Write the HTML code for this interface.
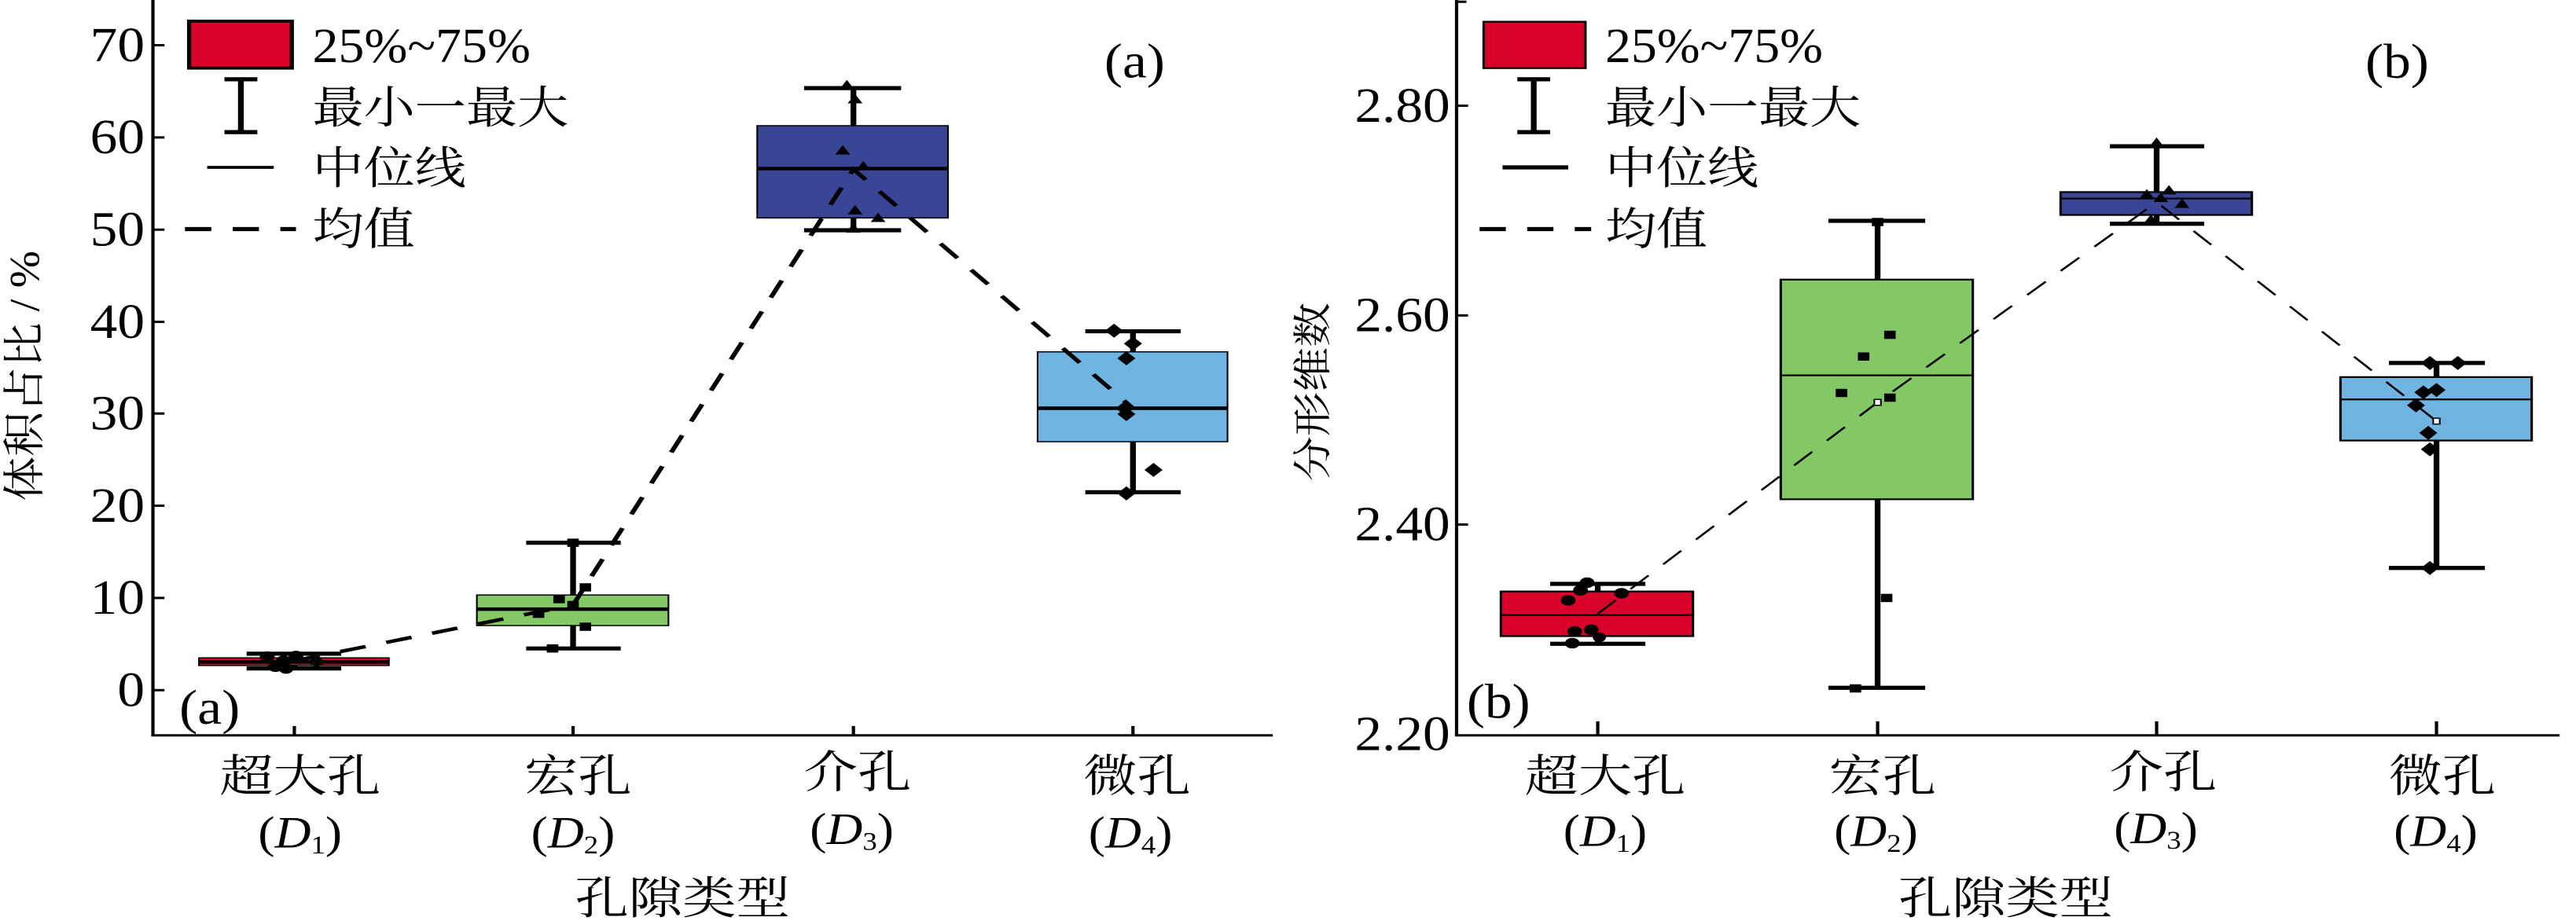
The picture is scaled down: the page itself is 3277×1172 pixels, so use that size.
<!DOCTYPE html>
<html><head><meta charset="utf-8"><style>
html,body{margin:0;padding:0;background:#fff;}
svg{position:absolute;top:0;}
text{font-family:"Liberation Serif","Noto Serif CJK SC","Noto Sans CJK SC",serif;fill:#000;}
.n{font-size:83px;text-anchor:end;dominant-baseline:central;}
.c{font-size:76px;text-anchor:middle;dominant-baseline:central;}
.l{font-size:76px;dominant-baseline:central;}
.ln{font-size:83px;dominant-baseline:central;}
</style></head><body>
<svg style="left:0" width="1640" height="1172" viewBox="0 0 1568 1568" preserveAspectRatio="none">
<g stroke="#000" stroke-width="4" fill="none">
<line x1="186" y1="0" x2="186" y2="1252"/><line x1="184" y1="1252" x2="1548" y2="1252"/>
<line x1="186" y1="77" x2="200" y2="77"/><line x1="186" y1="234" x2="200" y2="234"/><line x1="186" y1="391" x2="200" y2="391"/><line x1="186" y1="548" x2="200" y2="548"/><line x1="186" y1="704" x2="200" y2="704"/><line x1="186" y1="861" x2="200" y2="861"/><line x1="186" y1="1018" x2="200" y2="1018"/><line x1="186" y1="1175" x2="200" y2="1175"/>
<line x1="358" y1="1236" x2="358" y2="1252"/><line x1="697" y1="1236" x2="697" y2="1252"/><line x1="1038" y1="1236" x2="1038" y2="1252"/><line x1="1378" y1="1236" x2="1378" y2="1252"/>
</g>
<g class="n">
<text transform="translate(176,77) scale(0.8,1)">70</text><text transform="translate(176,234) scale(0.8,1)">60</text><text transform="translate(176,391) scale(0.8,1)">50</text><text transform="translate(176,548) scale(0.8,1)">40</text><text transform="translate(176,704) scale(0.8,1)">30</text><text transform="translate(176,861) scale(0.8,1)">20</text><text transform="translate(176,1018) scale(0.8,1)">10</text><text transform="translate(176,1175) scale(0.8,1)">0</text>
</g>
<g stroke="#000" stroke-width="7">
<line x1="358" y1="1113" x2="358" y2="1138"/><line x1="300" y1="1113" x2="415" y2="1113"/><line x1="300" y1="1138" x2="415" y2="1138"/>
<line x1="697" y1="924" x2="697" y2="1104"/><line x1="640" y1="924" x2="755" y2="924"/><line x1="640" y1="1104" x2="755" y2="1104"/>
<line x1="1038" y1="150" x2="1038" y2="392"/><line x1="978" y1="150" x2="1096" y2="150"/><line x1="978" y1="392" x2="1096" y2="392"/>
<line x1="1378" y1="564" x2="1378" y2="838"/><line x1="1320" y1="564" x2="1436" y2="564"/><line x1="1320" y1="838" x2="1436" y2="838"/>
</g>
<g stroke="#000" stroke-width="2">
<rect x="242" y="1120" width="231" height="13" fill="#d9002a"/>
<rect x="580" y="1013" width="233" height="52" fill="#84c765"/>
<rect x="921" y="214" width="232" height="157" fill="#3a4596"/>
<rect x="1262" y="599" width="231" height="153" fill="#70b5e2"/>
</g>
<g stroke="#000" stroke-width="6">
<line x1="242" y1="1127" x2="473" y2="1127"/><line x1="580" y1="1037" x2="813" y2="1037"/><line x1="921" y1="287" x2="1153" y2="287"/><line x1="1262" y1="695" x2="1493" y2="695"/>
</g>
<polyline points="358,1125 697,1030 1038,288 1378,695" fill="none" stroke="#000" stroke-width="6" stroke-dasharray="32,26"/>
<g fill="#000">
<circle cx="325" cy="1118" r="9"/><circle cx="345" cy="1125" r="9"/><circle cx="360" cy="1117" r="9"/><circle cx="335" cy="1135" r="9"/><circle cx="348" cy="1138" r="9"/><circle cx="385" cy="1127" r="8"/>
<rect x="690" y="917" width="14" height="14"/><rect x="665" y="1097" width="14" height="14"/><rect x="648" y="1038" width="14" height="14"/><rect x="673" y="1013" width="14" height="14"/><rect x="690" y="1023" width="14" height="14"/><rect x="705" y="993" width="14" height="14"/><rect x="705" y="1060" width="14" height="14"/>
<path d="M1030,136 l9,16 h-18z"/><path d="M1040,160 l9,16 h-18z"/><path d="M1025,247 l9,16 h-18z"/><path d="M1050,274 l9,16 h-18z"/><path d="M1040,349 l9,16 h-18z"/><path d="M1068,362 l9,16 h-18z"/><path d="M1038,380 l9,16 h-18z"/>
<path d="M1355,551 l11,12 l-11,12 l-11,-12z"/><path d="M1378,573 l11,12 l-11,12 l-11,-12z"/><path d="M1370,598 l11,12 l-11,12 l-11,-12z"/><path d="M1368,683 l11,12 l-11,12 l-11,-12z"/><path d="M1370,693 l11,12 l-11,12 l-11,-12z"/><path d="M1403,788 l11,12 l-11,12 l-11,-12z"/><path d="M1370,828 l11,12 l-11,12 l-11,-12z"/>
</g>
<rect x="230" y="36" width="125" height="80" fill="#d9002a" stroke="#000" stroke-width="5"/>
<g stroke="#000" stroke-width="7"><line x1="293" y1="135" x2="293" y2="225"/><line x1="273" y1="135" x2="313" y2="135"/><line x1="273" y1="225" x2="313" y2="225"/></g>
<line x1="252" y1="285" x2="333" y2="285" stroke="#000" stroke-width="5"/>
<line x1="225" y1="390" x2="360" y2="390" stroke="#000" stroke-width="7" stroke-dasharray="32,26"/>
<text class="ln" transform="translate(380,78) scale(0.76,1)">25%~75%</text>
<text class="l" transform="translate(380,185) scale(0.82,1)">最小一最大</text>
<text class="l" transform="translate(380,288) scale(0.82,1)">中位线</text>
<text class="l" transform="translate(380,392) scale(0.82,1)">均值</text>
<text class="ln" text-anchor="middle" transform="translate(1380,105) scale(0.8,1)">(a)</text>
<text class="ln" text-anchor="middle" transform="translate(255,1205) scale(0.8,1)">(a)</text>
<g>
<text class="c" transform="translate(365,1322) scale(0.86,1)">超大孔</text><text class="c" transform="translate(703,1322) scale(0.86,1)">宏孔</text><text class="c" transform="translate(1043,1315) scale(0.86,1)">介孔</text><text class="c" transform="translate(1383,1322) scale(0.86,1)">微孔</text>
<text class="c" font-size="83" transform="translate(365,1418) scale(0.8,1)">(<tspan font-style="italic">D</tspan><tspan font-size="44" dy="20">1</tspan><tspan dy="-20">)</tspan></text>
<text class="c" font-size="83" transform="translate(697,1418) scale(0.8,1)">(<tspan font-style="italic">D</tspan><tspan font-size="44" dy="20">2</tspan><tspan dy="-20">)</tspan></text>
<text class="c" font-size="83" transform="translate(1036,1412) scale(0.8,1)">(<tspan font-style="italic">D</tspan><tspan font-size="44" dy="20">3</tspan><tspan dy="-20">)</tspan></text>
<text class="c" font-size="83" transform="translate(1375,1418) scale(0.8,1)">(<tspan font-style="italic">D</tspan><tspan font-size="44" dy="20">4</tspan><tspan dy="-20">)</tspan></text>
<text class="c" transform="translate(830,1530) scale(0.86,1)">孔隙类型</text>
<text class="c" font-size="90" transform="translate(30,640) rotate(-90) scale(1,0.68)">体积占比 / %</text>
</g>
</svg>

<svg style="left:1640px" width="1637" height="1172" viewBox="0 0 1568 1568" preserveAspectRatio="none">
<g stroke="#000" stroke-width="4" fill="none">
<line x1="204" y1="0" x2="204" y2="1252"/><line x1="202" y1="1252" x2="1548" y2="1252"/><line x1="204" y1="3" x2="216" y2="3"/>
<line x1="204" y1="180" x2="218" y2="180"/><line x1="204" y1="537" x2="218" y2="537"/><line x1="204" y1="893" x2="218" y2="893"/>
<line x1="376" y1="1228" x2="376" y2="1252"/><line x1="717" y1="1228" x2="717" y2="1252"/><line x1="1057" y1="1228" x2="1057" y2="1252"/><line x1="1398" y1="1228" x2="1398" y2="1252"/>
</g>
<g class="n">
<text transform="translate(196,180) scale(0.8,1)">2.80</text><text transform="translate(196,537) scale(0.8,1)">2.60</text><text transform="translate(196,893) scale(0.8,1)">2.40</text><text transform="translate(196,1250) scale(0.8,1)">2.20</text>
</g>
<g stroke="#000" stroke-width="7">
<line x1="376" y1="994" x2="376" y2="1096"/><line x1="318" y1="994" x2="434" y2="994"/><line x1="318" y1="1096" x2="434" y2="1096"/>
<line x1="717" y1="376" x2="717" y2="1171"/><line x1="657" y1="376" x2="775" y2="376"/><line x1="657" y1="1171" x2="775" y2="1171"/>
<line x1="1057" y1="249" x2="1057" y2="381"/><line x1="1000" y1="249" x2="1115" y2="249"/><line x1="1000" y1="381" x2="1115" y2="381"/>
<line x1="1398" y1="618" x2="1398" y2="967"/><line x1="1340" y1="618" x2="1457" y2="618"/><line x1="1340" y1="967" x2="1457" y2="967"/>
</g>
<g stroke="#000" stroke-width="3">
<rect x="258" y="1007" width="234" height="76" fill="#d9002a"/>
<rect x="599" y="476" width="234" height="374" fill="#84c765"/>
<rect x="940" y="327" width="233" height="39" fill="#3a4596"/>
<rect x="1281" y="642" width="233" height="108" fill="#70b5e2"/>
</g>
<g stroke="#000" stroke-width="3">
<line x1="258" y1="1047" x2="492" y2="1047"/><line x1="599" y1="639" x2="833" y2="639"/><line x1="940" y1="338" x2="1173" y2="338"/><line x1="1281" y1="680" x2="1514" y2="680"/>
</g>
<polyline points="376,1045 717,685 1057,344 1398,717" fill="none" stroke="#000" stroke-width="3" stroke-dasharray="32,26"/>
<g fill="#000">
<circle cx="363" cy="992" r="9"/><circle cx="355" cy="1005" r="9"/><circle cx="340" cy="1022" r="9"/><circle cx="405" cy="1010" r="9"/><circle cx="348" cy="1075" r="9"/><circle cx="368" cy="1072" r="9"/><circle cx="378" cy="1085" r="8"/><circle cx="345" cy="1095" r="9"/>
<rect x="710" y="371" width="14" height="14"/><rect x="725" y="563" width="14" height="14"/><rect x="693" y="600" width="14" height="14"/><rect x="666" y="662" width="14" height="14"/><rect x="725" y="670" width="14" height="14"/><rect x="721" y="1011" width="14" height="14"/><rect x="683" y="1165" width="14" height="14"/>
<path d="M1057,234 l9,16 h-18z"/><path d="M1045,322 l9,16 h-18z"/><path d="M1072,315 l9,16 h-18z"/><path d="M1088,338 l9,16 h-18z"/><path d="M1050,365 l9,16 h-18z"/><path d="M1062,328 l9,16 h-18z"/>
<path d="M1390,606 l11,12 l-11,12 l-11,-12z"/><path d="M1424,606 l11,12 l-11,12 l-11,-12z"/><path d="M1398,652 l11,12 l-11,12 l-11,-12z"/><path d="M1382,656 l11,12 l-11,12 l-11,-12z"/><path d="M1373,678 l11,12 l-11,12 l-11,-12z"/><path d="M1388,725 l11,12 l-11,12 l-11,-12z"/><path d="M1390,753 l11,12 l-11,12 l-11,-12z"/><path d="M1390,955 l11,12 l-11,12 l-11,-12z"/>
</g>
<rect x="713" y="680" width="8" height="10" fill="#fff" stroke="#000" stroke-width="2"/>
<rect x="1394" y="712" width="8" height="10" fill="#fff" stroke="#000" stroke-width="2"/>
<rect x="237" y="37" width="124" height="79" fill="#d9002a" stroke="#000" stroke-width="3"/>
<g stroke="#000" stroke-width="7"><line x1="298" y1="135" x2="298" y2="225"/><line x1="278" y1="135" x2="318" y2="135"/><line x1="278" y1="225" x2="318" y2="225"/></g>
<line x1="260" y1="285" x2="340" y2="285" stroke="#000" stroke-width="7"/>
<line x1="232" y1="390" x2="368" y2="390" stroke="#000" stroke-width="7" stroke-dasharray="32,26"/>
<text class="ln" transform="translate(385,78) scale(0.76,1)">25%~75%</text>
<text class="l" transform="translate(385,185) scale(0.82,1)">最小一最大</text>
<text class="l" transform="translate(385,288) scale(0.82,1)">中位线</text>
<text class="l" transform="translate(385,392) scale(0.82,1)">均值</text>
<text class="ln" text-anchor="middle" transform="translate(1350,105) scale(0.8,1)">(b)</text>
<text class="ln" text-anchor="middle" transform="translate(255,1195) scale(0.8,1)">(b)</text>
<g>
<text class="c" transform="translate(385,1322) scale(0.86,1)">超大孔</text><text class="c" transform="translate(723,1322) scale(0.86,1)">宏孔</text><text class="c" transform="translate(1065,1315) scale(0.86,1)">介孔</text><text class="c" transform="translate(1405,1322) scale(0.86,1)">微孔</text>
<text class="c" font-size="83" transform="translate(385,1415) scale(0.8,1)">(<tspan font-style="italic">D</tspan><tspan font-size="44" dy="20">1</tspan><tspan dy="-20">)</tspan></text>
<text class="c" font-size="83" transform="translate(715,1415) scale(0.8,1)">(<tspan font-style="italic">D</tspan><tspan font-size="44" dy="20">2</tspan><tspan dy="-20">)</tspan></text>
<text class="c" font-size="83" transform="translate(1056,1410) scale(0.8,1)">(<tspan font-style="italic">D</tspan><tspan font-size="44" dy="20">3</tspan><tspan dy="-20">)</tspan></text>
<text class="c" font-size="83" transform="translate(1397,1415) scale(0.8,1)">(<tspan font-style="italic">D</tspan><tspan font-size="44" dy="20">4</tspan><tspan dy="-20">)</tspan></text>
<text class="c" transform="translate(873,1530) scale(0.86,1)">孔隙类型</text>
<text class="c" font-size="100" transform="translate(30,667) rotate(-90) scale(1,0.62)">分形维数</text>
</g>
</svg>
</body></html>
